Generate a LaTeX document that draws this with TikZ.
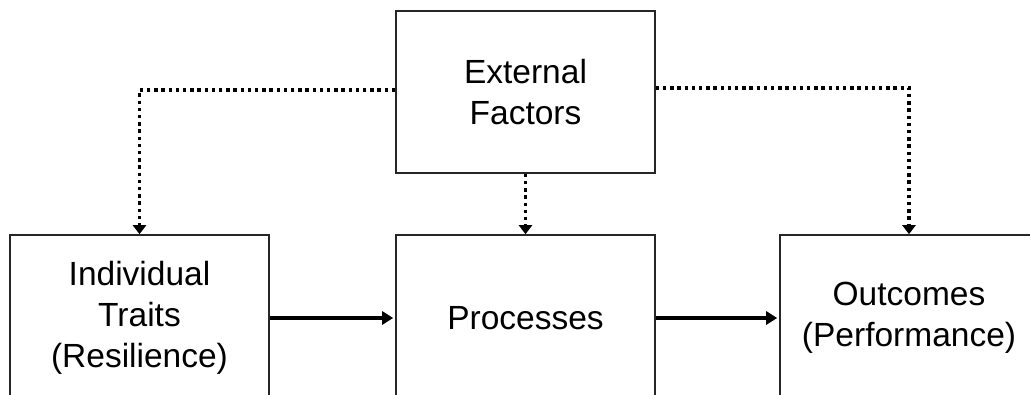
\documentclass[tikz,border=0pt]{standalone}
\usepackage{fontspec}
\setmainfont{Liberation Sans}
\usetikzlibrary{arrows.meta}
\begin{document}
\begin{tikzpicture}[x=1pt,y=-1pt,
  box/.style={draw=black!85, line width=1.6pt, fill=white, align=center,
    minimum width=259pt, inner sep=0pt,
    font=\fontsize{33.5}{41}\selectfont},
  flow/.style={line width=3.6pt, -{Triangle[length=11pt,width=13pt]}, shorten >=2pt},
  influence/.style={line width=3.6pt, dash pattern=on 3.4pt off 3.8pt,
    -{Triangle[length=9pt,width=13pt]}}
]
\useasboundingbox (0,0) rectangle (1030,395);
\clip (0,0) rectangle (1030,395);
\fill[white] (0,0) rectangle (1030,395);

% top factor box
\node[box, minimum height=162pt] (ext) at (525.5,92) {External\\Factors};

% lower row
\node[box, minimum height=166pt] (ind) at (139.5,318) {Individual\\Traits\\(Resilience)};
\node[box, minimum height=166pt] (proc) at (525.5,318) {Processes};
\node[box, minimum height=166pt, minimum width=258pt] (out) at (909,318)
  {Outcomes\\(Performance)};

% main flow
\draw[flow] (ind.east) -- (proc.west);
\draw[flow] (proc.east) -- (out.west);

% external influences
\draw[influence] ([yshift=2pt]ext.west) -| (ind.north);
\draw[influence] (ext.south) -- (proc.north);
\draw[influence] ([yshift=4pt]ext.east) -| (out.north);
\end{tikzpicture}
\end{document}
